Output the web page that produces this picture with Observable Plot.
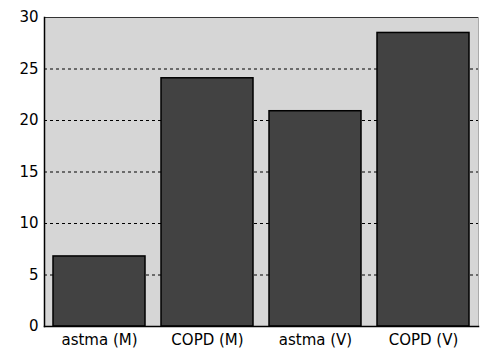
<!DOCTYPE html>
<html>
<head>
<meta charset="utf-8">
<script src="https://cdn.jsdelivr.net/npm/d3@7"></script>
<script src="https://cdn.jsdelivr.net/npm/@observablehq/plot@0.6"></script>
<style>
  html, body { margin: 0; padding: 0; background: #fff; }
  #chart svg { display: block; }
</style>
</head>
<body>
<div id="chart"></div>
<script>
const categories = ["astma (M)", "COPD (M)", "astma (V)", "COPD (V)"];
const values = [6.8, 24.1, 20.9, 28.5];
const yTicks = [0, 5, 10, 15, 20, 25, 30];
const gridTicks = [5, 10, 15, 20, 25];

const data = categories.map((c, i) => ({category: c, value: values[i]}));

const chart = Plot.plot({
  width: 485,
  height: 352,
  marginLeft: 44,
  marginRight: 7,
  marginTop: 17,
  marginBottom: 26,
  style: {fontFamily: "DejaVu Sans", fontSize: "15px", color: "#000", background: "#fff"},
  x: {domain: categories, paddingInner: 0.15, paddingOuter: 0.075, label: null},
  y: {domain: [0, 30], ticks: yTicks, label: null},
  marks: [
    Plot.frame({fill: "#d6d6d6", stroke: null}),
    Plot.ruleY(gridTicks, {stroke: "#000", strokeWidth: 1.2, strokeDasharray: "3,3"}),
    Plot.barY(data, {x: "category", y: "value", fill: "#424242", stroke: "#000", strokeWidth: 1.5}),
    Plot.frame({anchor: "top", stroke: "#333", strokeDasharray: "1,1"}),
    Plot.frame({anchor: "right", stroke: "#aaa", strokeDasharray: "1,1"}),
    Plot.frame({anchor: "left", stroke: "#000", strokeWidth: 1.5}),
    Plot.frame({anchor: "bottom", stroke: "#000", strokeWidth: 1.5}),
    Plot.axisY(yTicks, {tickSize: 0, tickPadding: 6, fontSize: 15, fill: "#000"}),
    Plot.axisX({tickSize: 0, tickPadding: 8, fontSize: 15, fill: "#000"})
  ]
});
document.getElementById("chart").appendChild(chart);
</script>
</body>
</html>
